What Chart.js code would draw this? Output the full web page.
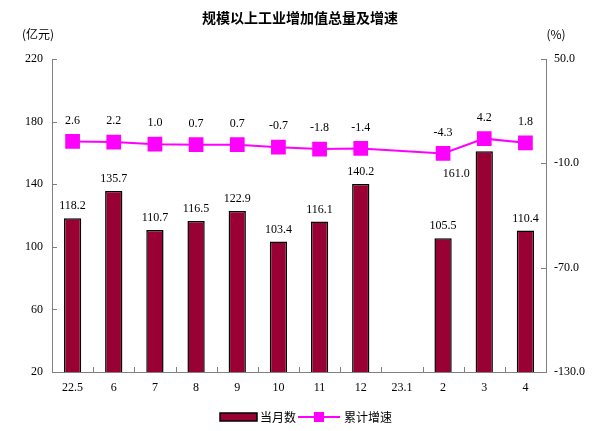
<!DOCTYPE html>
<html>
<head>
<meta charset="utf-8">
<script src="https://cdn.jsdelivr.net/npm/chart.js@4.4.0/dist/chart.umd.min.js"></script>
<style>
  html, body { margin: 0; padding: 0; background: #fff; }
  #wrap { width: 600px; height: 431px; position: relative; }
</style>
</head>
<body>
<div id="wrap"><canvas id="myChart" width="600" height="431"></canvas></div>
<script>
// données
const categories = ['22.5', '6', '7', '8', '9', '10', '11', '12', '23.1', '2', '3', '4'];
const monthValues = [118.2, 135.7, 110.7, 116.5, 122.9, 103.4, 116.1, 140.2, null, 105.5, 161.0, 110.4];
const growthValues = [2.6, 2.2, 1.0, 0.7, 0.7, -0.7, -1.8, -1.4, null, -4.3, 4.2, 1.8];
const leftTicks = [20, 60, 100, 140, 180, 220];
const rightTicks = [-130, -70, -10, 50];

const FONT = "'Liberation Serif', 'Noto Sans CJK SC', serif";
const CJK = "'Noto Sans CJK SC', sans-serif";
const AXIS = '#808080';

// étiquettes, axes internes, titre et légende
const decorPlugin = {
    id: 'decor',
    afterDraw(chart) {
        const c = chart.ctx;
        const a = chart.chartArea;
        const yl = chart.scales.y;
        const yr = chart.scales.y1;
        c.save();

        // petites graduations vers l'intérieur
        c.strokeStyle = AXIS;
        c.lineWidth = 1;
        c.beginPath();
        leftTicks.forEach(v => {
            const p = Math.round(yl.getPixelForValue(v)) + 0.5;
            c.moveTo(a.left, p); c.lineTo(a.left + 5, p);
        });
        rightTicks.forEach(v => {
            const p = Math.round(yr.getPixelForValue(v)) + 0.5;
            c.moveTo(a.right, p); c.lineTo(a.right - 5, p);
        });
        const step = (a.right - a.left) / categories.length;
        for (let i = 1; i < categories.length; i++) {
            const p = Math.round(a.left + i * step) + 0.5;
            c.moveTo(p, a.bottom); c.lineTo(p, a.bottom - 5);
        }
        c.stroke();

        // valeurs des barres
        c.font = '12px ' + FONT;
        c.textAlign = 'center';
        c.textBaseline = 'middle';
        c.fillStyle = '#000';
        chart.getDatasetMeta(0).data.forEach((bar, i) => {
            if (monthValues[i] == null) return;
            let dx = 0, dy = -12;
            if (monthValues[i] === 161.0) { dx = -28; dy = 23; }
            c.fillText(monthValues[i].toFixed(1), bar.x + dx, bar.y + dy);
        });

        // valeurs de la courbe
        chart.getDatasetMeta(1).data.forEach((pt, i) => {
            if (growthValues[i] == null) return;
            c.fillText(growthValues[i].toFixed(1), pt.x, pt.y - 21);
        });

        // titre et unités
        c.font = 'bold 14px ' + CJK;
        c.fillText('规模以上工业增加值总量及增速', 300, 18);
        c.font = '12px ' + CJK;
        c.fillText('(亿元)', 38, 34);
        c.fillText('(%)', 556, 34);

        // légende
        const ly = 417;
        c.fillStyle = '#990033';
        c.strokeStyle = '#000';
        c.lineWidth = 1.5;
        c.fillRect(220, ly - 4, 37, 8);
        c.strokeRect(220, ly - 4, 37, 8);
        c.fillStyle = '#000';
        c.textAlign = 'left';
        c.fillText('当月数', 260, ly);
        c.strokeStyle = '#ff00ff';
        c.lineWidth = 2;
        c.beginPath();
        c.moveTo(298, ly); c.lineTo(340, ly);
        c.stroke();
        c.fillStyle = '#ff00ff';
        c.fillRect(314, ly - 5, 10, 10);
        c.fillStyle = '#000';
        c.fillText('累计增速', 344, ly);
        c.restore();
    }
};

function initChart() {
    const ctx = document.getElementById('myChart');
    if (!ctx) return;

    new Chart(ctx, {
        type: 'bar',
        data: {
            labels: categories,
            datasets: [{
                type: 'bar',
                label: '当月数',
                data: monthValues,
                yAxisID: 'y',
                backgroundColor: '#990033',
                borderColor: '#000',
                borderWidth: 1.5,
                barPercentage: 0.42,
                categoryPercentage: 1,
                order: 2
            }, {
                type: 'line',
                label: '累计增速',
                data: growthValues,
                yAxisID: 'y1',
                borderColor: '#ff00ff',
                backgroundColor: '#ff00ff',
                borderWidth: 2,
                pointStyle: 'rect',
                pointRadius: 9,
                pointHoverRadius: 9,
                spanGaps: true,
                tension: 0,
                order: 1
            }]
        },
        options: {
            responsive: false,
            animation: false,
            layout: { padding: { top: 59, left: 0, right: 0, bottom: 0 } },
            plugins: {
                legend: { display: false },
                tooltip: { enabled: false }
            },
            scales: {
                x: {
                    offset: true,
                    grid: { display: false, offset: true, drawTicks: false },
                    border: { display: true, color: AXIS },
                    ticks: {
                        color: '#000',
                        font: { family: FONT, size: 12 },
                        padding: 9,
                        maxRotation: 0,
                        autoSkip: false
                    },
                    afterFit: s => { s.height = 59; }
                },
                y: {
                    position: 'left',
                    min: 20,
                    max: 220,
                    afterBuildTicks: s => { s.ticks = leftTicks.map(v => ({ value: v })); },
                    grid: { display: false, drawTicks: false },
                    border: { display: true, color: AXIS },
                    ticks: {
                        color: '#000',
                        font: { family: FONT, size: 12 },
                        padding: 9
                    },
                    afterFit: s => { s.width = 52; }
                },
                y1: {
                    position: 'right',
                    min: -130,
                    max: 50,
                    afterBuildTicks: s => { s.ticks = rightTicks.map(v => ({ value: v })); },
                    grid: { display: false, drawTicks: false },
                    border: { display: true, color: AXIS },
                    ticks: {
                        color: '#000',
                        font: { family: FONT, size: 12 },
                        padding: 8,
                        callback: v => Number(v).toFixed(1)
                    },
                    afterFit: s => { s.width = 54; }
                }
            }
        },
        plugins: [decorPlugin]
    });
}

if (document.readyState === 'complete') {
    initChart();
} else {
    document.addEventListener('DOMContentLoaded', initChart);
}
</script>
</body>
</html>
